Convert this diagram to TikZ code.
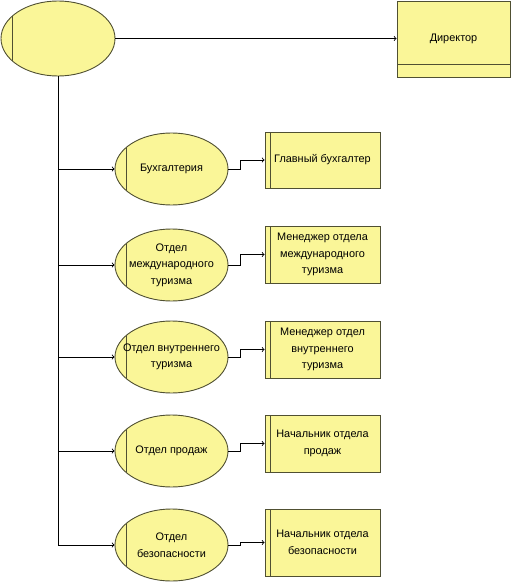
\documentclass[tikz,border=0pt]{standalone}
\usepackage{fontspec}
\setmainfont{Liberation Sans}
\usepackage{tikz}
\usetikzlibrary{arrows, shapes.geometric, positioning}

\definecolor{ideffill}{RGB}{250,246,152}
\definecolor{idefline}{RGB}{80,80,50}

\begin{document}
\begin{tikzpicture}[
    x = 1pt, y = -1pt,
    > = to, % open arrow head
    line width = 0.9pt,
    font = \fontsize{10.9}{16.5}\selectfont,
    dept/.style={ellipse, draw = idefline, fill = ideffill,
      minimum width = 113pt, minimum height = 72pt,
      inner xsep = -40pt, inner ysep = -25pt, align = center, % keep the size fixed
      path picture={\draw[idefline] ([xshift=11pt]path picture bounding box.north west)
        -- ([xshift=11pt]path picture bounding box.south west);}},
    post/.style={rectangle, draw = idefline, fill = ideffill,
      minimum width = 115pt, minimum height = 57pt, inner sep = 0pt, align = center,
      path picture={\draw[idefline] ([xshift=5pt]path picture bounding box.north west)
        -- ([xshift=5pt]path picture bounding box.south west);}}
  ]
  \useasboundingbox (0,0) rectangle (511,586);

  % top level
  \node[dept, minimum width = 114pt, minimum height = 75pt] (root) at (58,38.5) {};
  \node[rectangle, draw = idefline, fill = ideffill, minimum width = 113pt,
    minimum height = 76pt, inner sep = 0pt,
    path picture={\draw[idefline] ([yshift=13pt]path picture bounding box.south west)
      -- ([yshift=13pt]path picture bounding box.south east);}] (dir) at (453.5,39) {Директор};

  % departments
  \node[dept] (d1) at (171.5,169) {Бухгалтерия};
  \node[dept] (d2) at (171.5,265) {Отдел\\международного\\туризма};
  \node[dept] (d3) at (171.5,357) {Отдел внутреннего\\туризма};
  \node[dept] (d4) at (171.5,451) {Отдел продаж};
  \node[dept] (d5) at (171.5,545) {Отдел\\безопасности};

  % heads
  \node[post, minimum height = 56pt] (h1) at (322.5,160) {Главный бухгалтер};
  \node[post] (h2) at (322.5,254.5) {Менеджер отдела\\международного\\туризма};
  \node[post] (h3) at (322.5,349.5) {Менеджер отдел\\внутреннего\\туризма};
  \node[post] (h4) at (322.5,443.5) {Начальник отдела\\продаж};
  \node[post, minimum height = 67pt] (h5) at (322.5,542.5) {Начальник отдела\\безопасности};

  \draw[->] (root.east) -- (root.east -| dir.west);
  \draw[->] (root.south) |- (d1.west);
  \draw[->] (root.south) |- (d2.west);
  \draw[->] (root.south) |- (d3.west);
  \draw[->] (root.south) |- (d4.west);
  \draw[->] (root.south) |- (d5.west);

  \draw[->] (d1.east) -- ++(12,0) |- (h1.west);
  \draw[->] (d2.east) -- ++(12,0) |- (h2.west);
  \draw[->] (d3.east) -- ++(12,0) |- (h3.west);
  \draw[->] (d4.east) -- ++(12,0) |- (h4.west);
  \draw[->] (d5.east) -- ++(12,0) |- (h5.west);
\end{tikzpicture}
\end{document}
